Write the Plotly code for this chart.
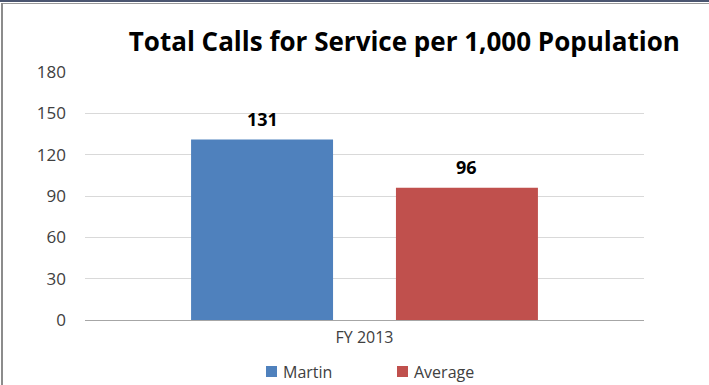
import plotly.graph_objects as go

categories = ["FY 2013"]
series_names = ["Martin", "Average"]
martin_values = [131]
average_values = [96]
colors = ["#4F81BD", "#C0504D"]
y_ticks = [0, 30, 60, 90, 120, 150, 180]

FONT = "Open Sans"
W, H = 709, 385
L, R, T, B = 85, 65, 72, 65
PW, PH = W - L - R, H - T - B
BARGAP, BARGROUPGAP = 0.267, 0.307


def px(x):
    return (x - L) / PW


def py(y):
    return (T + PH - y) / PH


fig = go.Figure()
annotations = []
slot = PW * (1 - BARGAP) / len(series_names)
for i, (name, vals, col) in enumerate(zip(series_names, [martin_values, average_values], colors)):
    fig.add_trace(go.Bar(
        x=categories, y=vals, name=name, marker=dict(color=col, line=dict(width=0)),
        showlegend=False, hoverinfo="skip",
    ))
    shift = (i - (len(series_names) - 1) / 2) * slot
    for c, v in zip(categories, vals):
        annotations.append(dict(
            xref="x", yref="y", x=c, y=v, xshift=shift, yshift=7,
            xanchor="center", yanchor="bottom", showarrow=False,
            text=f"<b>{v}</b>", font=dict(family=FONT, size=18, color="#000000"),
        ))

# legend: colour squares + names
legend_x = [266, 397]
shapes = []
for name, col, lx in zip(series_names, colors, legend_x):
    shapes.append(dict(type="rect", xref="paper", yref="paper",
                       x0=px(lx), x1=px(lx + 11), y0=py(377), y1=py(366),
                       fillcolor=col, line=dict(width=0)))
    annotations.append(dict(
        xref="paper", yref="paper", x=px(lx + 15), y=py(371.5),
        xanchor="left", yanchor="middle", showarrow=False, text=name,
        font=dict(family=FONT, size=16, color="#404040"),
    ))

shapes += [
    dict(type="line", xref="paper", yref="paper", x0=px(0), x1=px(W),
         y0=py(1), y1=py(1), line=dict(color="#4A5570", width=2)),
    dict(type="line", xref="paper", yref="paper", x0=px(2), x1=px(W),
         y0=py(3.5), y1=py(3.5), line=dict(color="#9A9A9A", width=1)),
    dict(type="line", xref="paper", yref="paper", x0=px(2), x1=px(2),
         y0=py(3), y1=py(H), line=dict(color="#8C8C8C", width=2)),
]

fig.update_layout(
    width=W, height=H,
    margin=dict(l=L, r=R, t=T, b=B, autoexpand=False),
    paper_bgcolor="white", plot_bgcolor="white",
    barmode="group", bargap=BARGAP, bargroupgap=BARGROUPGAP,
    title=dict(text="<b>Total Calls for Service per 1,000 Population</b>",
               x=405 / W, xref="paper", xanchor="center",
               y=1 - 42 / H, yanchor="middle",
               font=dict(family=FONT, size=26, color="#000000")),
    font=dict(family=FONT, size=16, color="#404040"),
    xaxis=dict(showgrid=False, showline=False, ticks="", tickfont=dict(size=16, color="#404040"),
               ticklabelstandoff=6),
    yaxis=dict(range=[0, 180], tickvals=y_ticks, showgrid=True, gridcolor="#D9D9D9",
               gridwidth=1, zeroline=True, zerolinecolor="#A6A6A6", zerolinewidth=1,
               showline=False, ticks="", ticklen=0, tickfont=dict(size=17, color="#404040"),
               ticklabelstandoff=18),
    showlegend=False,
    annotations=annotations,
    shapes=shapes,
)

fig.write_html("out.html", config={"displayModeBar": False},
               post_script="document.body.style.margin='0';")
